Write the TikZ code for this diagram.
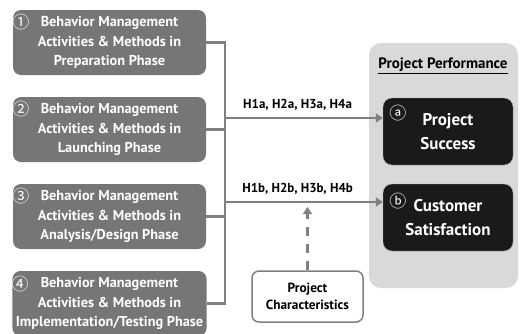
\documentclass[tikz,border=0pt]{standalone}
\usepackage{fontspec}
\setmainfont{PT Sans}
\newfontfamily\circfont{Noto Sans CJK SC}
\usepackage{tikz}
\usetikzlibrary{arrows.meta, positioning, calc}
\definecolor{phasegray}{RGB}{118,118,118}
\definecolor{panelgray}{RGB}{217,217,217}
\definecolor{linegray}{RGB}{128,128,128}
\definecolor{outbox}{RGB}{26,26,26}
\tikzstyle{phase} = [rectangle, rounded corners=8pt, minimum width=193pt, minimum height=65pt, align=center, fill=phasegray, text=white, font=\bfseries\fontsize{14.3}{19.5}\selectfont]
\tikzstyle{outcome} = [rectangle, rounded corners=9pt, minimum width=130pt, minimum height=67pt, align=center, fill=outbox, draw=gray!70, text=white, font=\bfseries\fontsize{17}{24}\selectfont]
\tikzstyle{panel} = [rectangle, rounded corners=12pt, minimum width=149pt, minimum height=245pt, fill=panelgray]
\tikzstyle{charbox} = [rectangle, rounded corners=7pt, minimum width=111pt, minimum height=51pt, align=center, fill=white, draw=linegray, line width=1.5pt, font=\bfseries\fontsize{13.3}{17.5}\selectfont]
\tikzstyle{numtag} = [inner sep=0pt, text=white, font=\circfont\fontsize{17}{17}\selectfont]
\tikzstyle{hyp} = [inner sep=1pt, font=\bfseries\fontsize{13}{15}\selectfont]
\tikzstyle{bus} = [draw=linegray, line width=2.5pt]
\tikzstyle{link} = [draw=linegray, line width=2.5pt, -{Triangle[length=7pt, width=9pt]}]
\tikzstyle{dlink} = [draw=linegray, line width=3pt, dash pattern=on 9pt off 8pt, -{Triangle[length=7pt, width=9pt]}]

\begin{document}
\begin{tikzpicture}[x=1pt, y=-1pt, node distance=87pt]
\useasboundingbox (0,0) rectangle (520,333);
% grey panel behind the two outcomes
\node (perf) [panel] at (443.5,165.5) {};
\node (ttl) [font=\bfseries\fontsize{15}{17}\selectfont] at (443,66) {\underline{Project Performance}};

% phases
\node (b1) [phase] at (109.5,42.5) {Behavior Management\\Activities \& Methods in\\Preparation Phase};
\node (b2) [phase, below of=b1] {Behavior Management\\Activities \& Methods in\\Launching Phase};
\node (b3) [phase, below of=b2] {Behavior Management\\Activities \& Methods in\\Analysis/Design Phase};
\node (b4) [phase, below of=b3] {Behavior Management\\Activities \& Methods in\\Implementation/Testing Phase};
\node (t1) [numtag] at ($(b1.north west)+(8,12.5)$) {①};
\node (t2) [numtag] at ($(b2.north west)+(8,12.5)$) {②};
\node (t3) [numtag] at ($(b3.north west)+(8,12.5)$) {③};
\node (t4) [numtag] at ($(b4.north west)+(8,13)$) {④};

% outcomes
\node (sa) [outcome] at (448,131.5) {Project\\Success};
\node (sb) [outcome, below of=sa, yshift=1pt] {Customer\\Satisfaction};
\node (ta) [numtag] at ($(sa.north west)+(15,15)$) {ⓐ};
\node (tb) [numtag] at ($(sb.north west)+(15,17)$) {ⓑ};

\node (pc) [charbox] at (307.5,296.5) {Project\\Characteristics};

\coordinate (hub) at (225,160);
\coordinate (ha) at (225,118);
\coordinate (hb) at (225,202);
\coordinate (cs) at (305,207);

\draw [bus] (b1.east) -| (hub) |- (b4.east);
\draw [bus] (b2.east) -- (b2.east -| hub);
\draw [bus] (b3.east) -- (b3.east -| hub);
\draw [link] (ha) -- (ha -| sa.west) node [hyp, above=5pt, pos=0.46] {H1a, H2a, H3a, H4a};
\draw [link] (hb) -- (hb -| sb.west) node [hyp, above=5pt, pos=0.46] {H1b, H2b, H3b, H4b};
\draw [dlink] (pc.north) -- (pc.north |- cs);
\end{tikzpicture}
\end{document}
